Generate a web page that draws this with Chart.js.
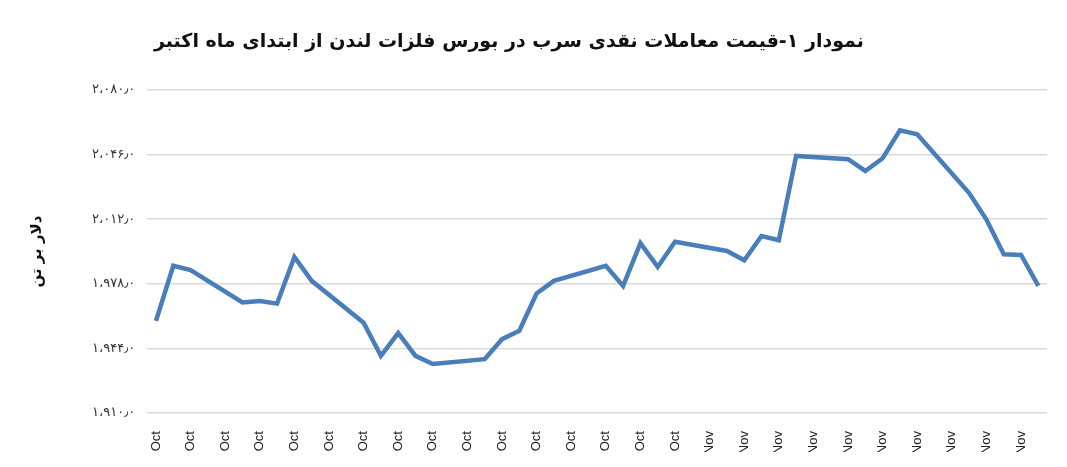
<!DOCTYPE html>
<html>
<head>
<meta charset="utf-8">
<script src="https://cdn.jsdelivr.net/npm/chart.js@4.4.0/dist/chart.umd.min.js"></script>
<style>
  html, body { margin: 0; padding: 0; background: #fff; overflow: hidden; }
  #clip { width: 1067px; height: 452px; overflow: hidden; position: relative; }
  #box { width: 1067px; height: 483px; position: relative; }
  #title {
    position: absolute; top: 29px; left: 509px; transform: translateX(-50%);
    white-space: nowrap; direction: rtl;
    font: bold 19px "DejaVu Sans"; color: #111; z-index: 2;
  }
</style>
</head>
<body>
<div id="clip">
  <div id="title"></div>
  <div id="box"><canvas id="leadChart"></canvas></div>
</div>
<script>
// روزهای تقویمی اول اکتبر تا ۲۱ نوامبر (برچسب‌ها یک‌روز‌درمیان نمایش داده می‌شوند)
const dayLabels = [
  "1-Oct","2-Oct","3-Oct","4-Oct","5-Oct","6-Oct","7-Oct","8-Oct","9-Oct","10-Oct",
  "11-Oct","12-Oct","13-Oct","14-Oct","15-Oct","16-Oct","17-Oct","18-Oct","19-Oct","20-Oct",
  "21-Oct","22-Oct","23-Oct","24-Oct","25-Oct","26-Oct","27-Oct","28-Oct","29-Oct","30-Oct",
  "31-Oct","1-Nov","2-Nov","3-Nov","4-Nov","5-Nov","6-Nov","7-Nov","8-Nov","9-Nov",
  "10-Nov","11-Nov","12-Nov","13-Nov","14-Nov","15-Nov","16-Nov","17-Nov","18-Nov","19-Nov",
  "20-Nov","21-Nov"
];

// قیمت نقدی سرب (دلار بر تن) - تعطیلات آخر هفته خالی
const leadPrice = [
  1958.5, 1987.5, 1985.3, null, null, 1968.2, 1969.0, 1967.6, 1992.2, 1979.6,
  null, null, 1957.6, 1940.1, 1952.1, 1940.1, 1935.8, null, null, 1938.4,
  1948.9, 1953.3, 1972.9, 1979.6, null, null, 1987.5, 1976.9, 1999.4, 1986.9,
  2000.2, null, null, 1995.3, 1990.4, 2003.2, 2001.0, 2045.3, null, null,
  2043.6, 2037.4, 2044.1, 2058.8, 2056.7, null, null, 2025.8, 2011.8, 1993.6,
  1993.2, 1976.9
];

const yMin = 1910;
const yMax = 2080;
const yStep = 34;

const chartTitle = "نمودار ۱-قیمت معاملات نقدی سرب در بورس فلزات لندن از ابتدای ماه اکتبر";
const yTitle = "دلار بر تن";

document.getElementById("title").textContent = chartTitle;

// عدد به ارقام فارسی: 2080 -> ۲،۰۸۰٫۰
function toFaNumber(v) {
  const s = Number(v).toLocaleString("en-US", { minimumFractionDigits: 1, maximumFractionDigits: 1 });
  const fa = "۰۱۲۳۴۵۶۷۸۹";
  return s.replace(/\d/g, d => fa[d]).replace(/,/g, "،").replace(/\./g, "٫");
}

const ctx = document.getElementById("leadChart").getContext("2d");

new Chart(ctx, {
  type: "line",
  data: {
    labels: dayLabels,
    datasets: [{
      label: "سرب",
      data: leadPrice,
      borderColor: "#4a7ebb",
      borderWidth: 4.5,
      pointRadius: 0,
      tension: 0,
      spanGaps: true,
      borderJoinStyle: "miter",
      fill: false
    }]
  },
  options: {
    responsive: true,
    maintainAspectRatio: false,
    animation: false,
    layout: { padding: { left: 28, right: 20, top: 90, bottom: 0 } },
    plugins: {
      legend: { display: false },
      tooltip: { enabled: false },
      title: { display: false }
    },
    scales: {
      x: {
        offset: true,
        grid: { display: false },
        border: { display: false },
        ticks: {
          autoSkip: false,
          minRotation: 90,
          maxRotation: 90,
          padding: 10,
          color: "#222",
          font: { family: "Liberation Sans", size: 13 },
          callback: function (value, index) {
            return index % 2 === 0 ? dayLabels[index] : null;
          }
        }
      },
      y: {
        min: yMin,
        max: yMax,
        grid: { color: "#d9d9d9", lineWidth: 1.5, drawTicks: false },
        border: { display: false },
        title: {
          display: true,
          text: yTitle,
          color: "#111",
          font: { family: "DejaVu Sans", size: 15, weight: "bold" },
          padding: { top: 0, bottom: 34 }
        },
        ticks: {
          stepSize: yStep,
          padding: 12,
          color: "#333",
          font: { family: "DejaVu Sans", size: 13 },
          callback: function (value) {
            return toFaNumber(value);
          }
        }
      }
    }
  }
});
</script>
</body>
</html>
